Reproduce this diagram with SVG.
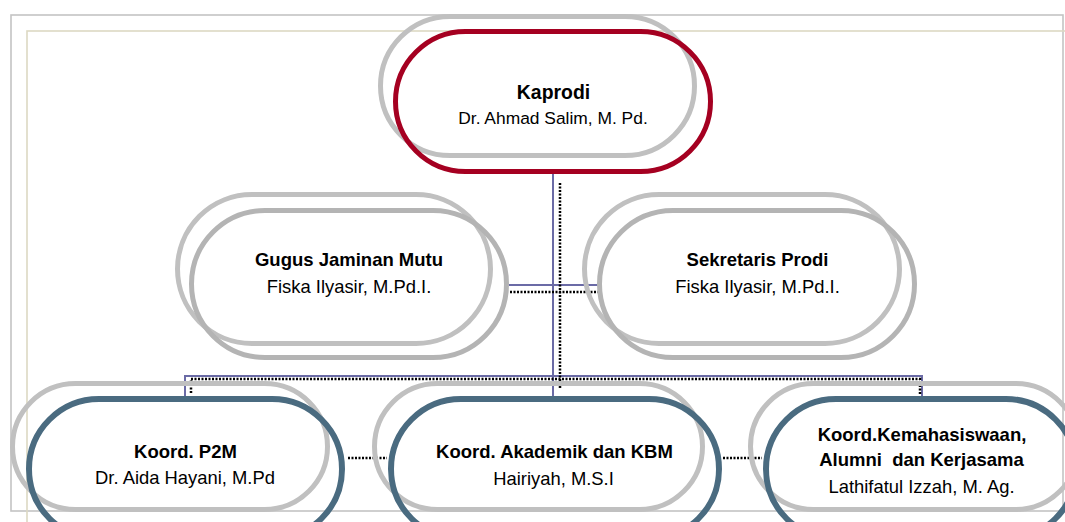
<svg xmlns="http://www.w3.org/2000/svg" width="1065" height="522" viewBox="0 0 1065 522">
<style>
.frame{fill:none;stroke:#c4c4c4;stroke-width:1.6}
.frame2{fill:none;stroke:#ddd9c3;stroke-width:1.6}
.back{fill:none;stroke:#c0c0c0;stroke-width:5}
.front{fill:none;stroke:#b4b4b4;stroke-width:5}
.red{fill:none;stroke:#a50021;stroke-width:5}
.blue{fill:none;stroke:#4a6b80;stroke-width:6}
.solid{fill:none;stroke:#6b6ba6;stroke-width:2}
.dot{fill:none;stroke:#000;stroke-width:2.5;stroke-dasharray:2 1.5}
text{font-family:"Liberation Sans",Arial,sans-serif;fill:#000;text-anchor:middle}
.b{font-weight:bold;font-size:18.5px}
.r{font-size:18.4px}
</style>
<rect class="frame" x="11" y="15" width="1052" height="496"/>
<rect class="frame2" x="27" y="31" width="1060" height="510"/>
<g id="connectors">
<path class="solid" d="M553 174V396"/>
<path class="solid" d="M509 285H598"/>
<path class="solid" d="M185 397V376H922V397"/>
<path class="dot" d="M560 183V388"/>
<path class="dot" d="M510 292H600"/>
<path class="dot" d="M191 393V379H920V395"/>
<path class="dot" d="M348 458H387"/>
<path class="dot" d="M723 458H762"/>
</g>
<g id="kaprodi">
<rect class="back" x="380.5" y="16.5" width="314" height="139" rx="69.5"/>
<rect class="red" x="395.5" y="31.5" width="315" height="140" rx="70"/>
<text class="b" x="553.5" y="99" style="font-size:19.4px">Kaprodi</text>
<text class="r" x="553" y="124" style="font-size:17.4px">Dr. Ahmad Salim, M. Pd.</text>
</g>
<g id="gugus">
<rect class="back" x="177.5" y="194.5" width="313" height="149" rx="74.5"/>
<rect class="front" x="191.5" y="210.5" width="315" height="147" rx="73.5"/>
<text class="b" x="349" y="266">Gugus Jaminan Mutu</text>
<text class="r" x="349" y="293">Fiska Ilyasir, M.Pd.I.</text>
</g>
<g id="sekretaris">
<rect class="back" x="584.5" y="194.5" width="315" height="149" rx="74.5"/>
<rect class="front" x="599.5" y="210.5" width="315" height="147" rx="73.5"/>
<text class="b" x="757.5" y="266">Sekretaris Prodi</text>
<text class="r" x="757.5" y="293">Fiska Ilyasir, M.Pd.I.</text>
</g>
<g id="p2m">
<rect class="back" x="12.5" y="383.5" width="315" height="126" rx="63"/>
<rect class="blue" x="29" y="399" width="313" height="140" rx="70"/>
<text class="b" x="185.5" y="458">Koord. P2M</text>
<text class="r" x="185" y="484">Dr. Aida Hayani, M.Pd</text>
</g>
<g id="akademik">
<rect class="back" x="374.5" y="383.5" width="328" height="126" rx="63"/>
<rect class="blue" x="391" y="399" width="328" height="140" rx="70"/>
<text class="b" x="554.5" y="458">Koord. Akademik dan KBM</text>
<text class="r" x="553.5" y="485">Hairiyah, M.S.I</text>
</g>
<g id="kemahasiswaan">
<rect class="back" x="750.5" y="383.5" width="328" height="126" rx="63"/>
<rect class="blue" x="766" y="399" width="310" height="140" rx="70"/>
<text class="b" x="922" y="441">Koord.Kemahasiswaan,</text>
<text class="b" x="921.5" y="466" style="white-space:pre">Alumni  dan Kerjasama</text>
<text class="r" x="921.5" y="493">Lathifatul Izzah, M. Ag.</text>
</g>
</svg>
